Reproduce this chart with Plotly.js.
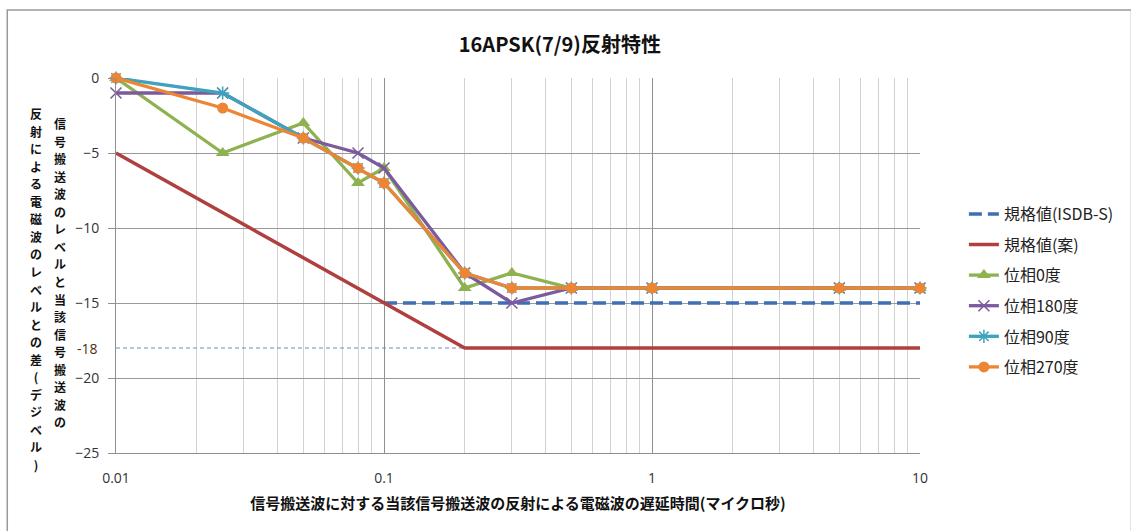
<!DOCTYPE html>
<html>
<head>
<meta charset="utf-8">
<script src="https://cdn.plot.ly/plotly-3.0.1.min.js"></script>
<style>html,body{margin:0;padding:0;background:#fff;}#chart{width:1131px;height:531px;}</style>
</head>
<body>
<div id="chart"></div>
<script>
// ---- data ----
const delay = [0.01, 0.025, 0.05, 0.08, 0.1, 0.2, 0.3, 0.5, 1, 5, 10];
const phase0   = [0, -5, -3, -7, -6, -14, -13, -14, -14, -14, -14];
const phase180 = [-1, -1, -4, -5, -6, -13, -15, -14, -14, -14, -14];
const phase90  = [0, -1, -4, -6, -7, -13, -14, -14, -14, -14, -14];
const phase270 = [0, -2, -4, -6, -7, -13, -14, -14, -14, -14, -14];

const isdbX = [0.1, 10];
const isdbY = [-15, -15];
const draftX = [0.01, 0.1, 0.2, 10];
const draftY = [-5, -15, -18, -18];
const refX = [0.01, 0.2];
const refY = [-18, -18];

const seriesNames = ['規格値(ISDB-S)', '規格値(案)', '位相0度', '位相180度', '位相90度', '位相270度'];

const xTickVals = [0.01, 0.1, 1, 10];
const xTickText = ['0.01', '0.1', '1', '10'];
const xMinorVals = [0.02,0.03,0.04,0.05,0.06,0.07,0.08,0.09,0.2,0.3,0.4,0.5,0.6,0.7,0.8,0.9,2,3,4,5,6,7,8,9];
const yTickVals = [0, -5, -10, -15, -20, -25];
const refLabel = '-18';

const chartTitle = '16APSK(7/9)反射特性';
const xTitle = '信号搬送波に対する当該信号搬送波の反射による電磁波の遅延時間(マイクロ秒)';
const yTitleCol1 = '信号搬送波のレベルと当該信号搬送波の';
const yTitleCol2 = '反射による電磁波のレベルとの差(デジベル)';

// ---- styles ----
const CJK = 'Noto Sans CJK JP, sans-serif';
const NUM = 'Open Sans, Liberation Sans, sans-serif';
const colors = ['#3f6fb3', '#b0403d', '#8db24f', '#7b5a9e', '#3ea3bd', '#ec8635'];

function lineTrace(x, y, i, extra) {
  return Object.assign({
    type: 'scatter', x: x, y: y, name: seriesNames[i], legendgroup: 'g' + i,
    mode: 'lines', cliponaxis: false,
    line: {color: colors[i], width: 3.3}
  }, extra || {});
}

const traces = [
  {type: 'scatter', x: refX, y: refY, mode: 'lines', showlegend: false, hoverinfo: 'skip',
   line: {color: '#5b8fd0', width: 1, dash: '4px,3px'}},
  lineTrace(isdbX, isdbY, 0, {line: {color: colors[0], width: 3.5, dash: '13px,6px'}}),
  lineTrace(draftX, draftY, 1, {line: {color: colors[1], width: 3.5}}),
  lineTrace(delay, phase0, 2, {mode: 'lines+markers',
    marker: {symbol: 'triangle-up', size: 12, color: colors[2]}}),
  lineTrace(delay, phase180, 3, {mode: 'lines+markers',
    marker: {symbol: 'x-thin-open', size: 11, color: colors[3], line: {width: 1.5, color: colors[3]}}}),
  lineTrace(delay, phase90, 4, {mode: 'lines+markers',
    marker: {symbol: 'asterisk-open', size: 11, color: colors[4], line: {width: 1.5, color: colors[4]}}}),
  lineTrace(delay, phase270, 5, {mode: 'lines+markers',
    marker: {symbol: 'circle', size: 11, color: colors[5]}})
];

const L = 116, R = 922, T = 78, B = 453;
const pw = R - L, ph = B - T;
const px = v => (v - L) / pw;
const py = v => (B - v) / ph;

// vertical (upright) column text: one character per line, glyphs a bit smaller than the line pitch
const vcol = s => s.split('').map(c => '<span style="font-size:12px">' + c + '</span>').join('<br>');

const layout = {
  width: 1131, height: 531,
  margin: {l: L, r: 1131 - R, t: T, b: 531 - B, pad: 0},
  paper_bgcolor: '#ffffff', plot_bgcolor: '#ffffff',
  showlegend: true,
  title: {text: chartTitle, font: {family: CJK, size: 20, color: '#111', weight: 'bold'},
          xref: 'container', x: 0.495, xanchor: 'center', yref: 'container', y: 1 - 45/531, yanchor: 'middle'},
  xaxis: {
    type: 'log', range: [-2, 1], tickmode: 'array', tickvals: xTickVals, ticktext: xTickText,
    showgrid: true, gridcolor: '#8f8f8f', gridwidth: 1,
    minor: {tickmode: 'array', tickvals: xMinorVals, showgrid: true, gridcolor: '#d2d2d2', gridwidth: 1, ticks: ''},
    showline: true, linecolor: '#8f8f8f', linewidth: 1, zeroline: false, ticks: '',
    tickfont: {family: NUM, size: 14, color: '#333'}, ticklabelstandoff: 12,
    title: {text: xTitle, font: {family: CJK, size: 15, color: '#111', weight: 'bold'}, standoff: 12},
    automargin: false
  },
  yaxis: {
    range: [-25, 0], tickmode: 'array', tickvals: yTickVals,
    showgrid: true, gridcolor: '#9a9a9a', gridwidth: 1,
    showline: true, linecolor: '#8f8f8f', linewidth: 1, zeroline: false,
    ticks: 'outside', ticklen: 7, tickcolor: '#8f8f8f', tickwidth: 1,
    tickfont: {family: NUM, size: 14, color: '#333'}, ticklabelstandoff: 6,
    automargin: false
  },
  legend: {x: px(966), xanchor: 'left', y: py(197), yanchor: 'top',
           font: {family: CJK, size: 16, color: '#222'}, tracegroupgap: 6.8,
           bgcolor: 'rgba(0,0,0,0)', borderwidth: 0},
  annotations: [
    {text: vcol(yTitleCol1), xref: 'paper', yref: 'paper', x: px(60), y: py(272),
     xanchor: 'center', yanchor: 'middle', showarrow: false, align: 'center',
     font: {family: CJK, size: 13.5, color: '#111', weight: 'bold'}},
    {text: vcol(yTitleCol2), xref: 'paper', yref: 'paper', x: px(36), y: py(289),
     xanchor: 'center', yanchor: 'middle', showarrow: false, align: 'center',
     font: {family: CJK, size: 13.5, color: '#111', weight: 'bold'}},
    {text: refLabel, xref: 'paper', yref: 'y', x: px(100), y: refY[0],
     xanchor: 'right', yanchor: 'middle', showarrow: false,
     font: {family: NUM, size: 14, color: '#4a3020'}}
  ],
  shapes: [
    {type: 'rect', xref: 'paper', yref: 'paper', x0: px(7), x1: px(1134), y0: py(534), y1: py(10),
     line: {color: '#9a9a9a', width: 1.5}, fillcolor: 'rgba(0,0,0,0)'}
  ]
};

Plotly.newPlot('chart', traces, layout, {displayModeBar: false, staticPlot: true});
</script>
</body>
</html>
